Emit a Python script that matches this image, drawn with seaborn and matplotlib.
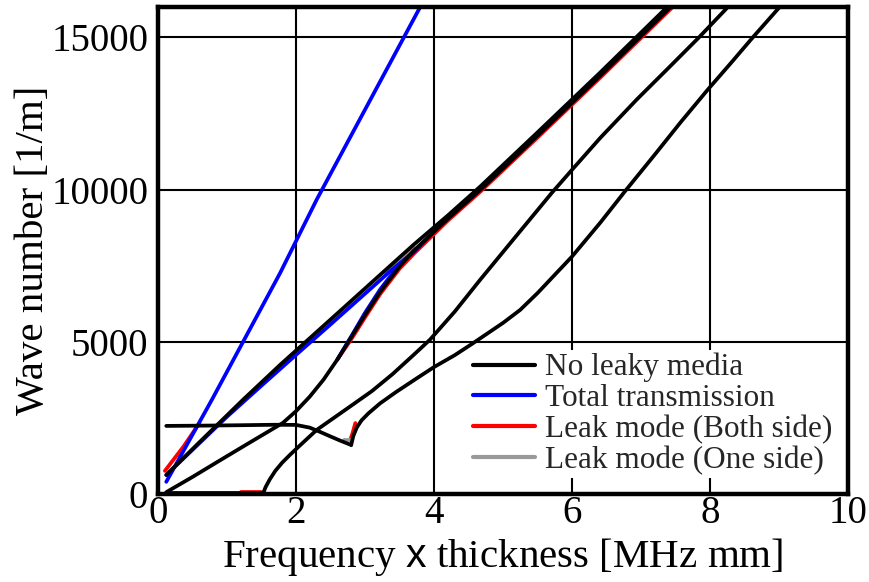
import matplotlib
matplotlib.use("Agg")
import matplotlib.pyplot as plt
import seaborn as sns
from matplotlib.lines import Line2D

sns.set_theme(style="white")
plt.rcParams['font.family'] = ['Liberation Serif', 'DejaVu Serif']
plt.rcParams['mathtext.fontset'] = 'custom'
plt.rcParams['mathtext.sf'] = 'Liberation Sans'
plt.rcParams['mathtext.rm'] = 'Liberation Serif'

# ---------------- data ----------------
series_names = ["No leaky media", "Total transmission",
                "Leak mode (Both side)", "Leak mode (One side)"]
series_colors = ["#000000", "#0000ff", "#ff0000", "#999999"]

x_ticks = [0, 2, 4, 6, 8, 10]
y_ticks = [0, 5000, 10000, 15000]

# No leaky media (black)
a_x = [0.12, 0.60, 1.23, 1.77, 2.50, 3.20, 3.70, 4.20, 4.67, 5.50, 6.41, 7.38]
a_y = [625, 1700, 3092, 4243, 5730, 7160, 8180, 9150, 10100, 11880, 13850, 16000]

b_x = [0.12, 0.50, 0.86, 1.30, 1.81, 2.00, 2.20, 2.40, 2.60, 2.80, 3.00, 3.22, 3.50,
       3.70, 4.20, 4.67, 5.50, 6.41, 7.43]
b_y = [60, 560, 1053, 1650, 2336, 2720, 3200, 3760, 4420, 5150, 5880, 6640, 7470,
       7980, 9040, 9990, 11770, 13740, 16000]

c_x = [1.52, 1.56, 1.62, 1.70, 1.80, 1.91, 2.05, 2.30, 2.80, 3.10, 3.40, 3.70, 3.94,
       4.30, 4.67, 5.20, 5.71, 6.00, 6.41, 6.94, 7.40, 7.84, 8.26]
c_y = [0, 230, 480, 760, 1030, 1280, 1580, 2105, 2900, 3380, 3940, 4560, 5066,
       5990, 7040, 8500, 9900, 10650, 11700, 12963, 14000, 15000, 16000]

d_x = [2.80, 2.83, 2.88, 2.95, 3.05, 3.22, 3.45, 3.75, 4.00, 4.30, 4.55, 5.00, 5.25,
       5.50, 6.00, 6.41, 6.77, 7.20, 7.57, 7.97, 8.30, 8.62, 9.01]
d_y = [1610, 1900, 2180, 2420, 2650, 2980, 3350, 3800, 4170, 4560, 4930, 5620, 6050,
       6600, 7800, 8914, 9950, 11150, 12200, 13290, 14150, 15000, 16000]

e_x = [0.12, 0.60, 1.20, 1.70, 2.00, 2.20, 2.35, 2.50, 2.65, 2.80]
e_y = [2237, 2245, 2260, 2275, 2270, 2180, 2040, 1890, 1745, 1610]

f_x = [0.12, 1.52]
f_y = [40, 40]

# Total transmission (blue)
bs_x = [0.12, 0.78, 1.77, 2.30, 3.80]
bs_y = [400, 3092, 7260, 9672, 16000]

ba_x = [0.12, 1.00, 1.50, 2.00, 2.50, 3.00, 3.40, 3.72, 4.20, 4.67, 5.50, 6.41, 7.41]
ba_y = [625, 2540, 3560, 4570, 5570, 6580, 7390, 7970, 9090, 10040, 11820, 13790, 16000]

bb_x = [2.60, 2.83, 3.00, 3.22, 3.50, 3.72]
bb_y = [4420, 5290, 5950, 6720, 7550, 7990]

# Leak mode, both sides (red)
r0_x = [0.10, 0.37, 0.60]
r0_y = [760, 1560, 2330]

rb_x = [1.20, 1.50]
rb_y = [60, 60]

rm_x = [2.60, 2.80, 3.00, 3.22, 3.50, 3.72, 4.20, 4.67, 5.50, 6.41, 7.46]
rm_y = [4420, 5080, 5800, 6570, 7400, 7920, 8980, 9930, 11710, 13680, 16000]

rc_x = [2.79, 2.82, 2.86]
rc_y = [1800, 2000, 2330]

# Leak mode, one side (grey)
g1_x = [2.70, 2.81]
g1_y = [1790, 1790]

g2_x = [3.30, 3.70]
g2_y = [7280, 8100]

# ---------------- figure ----------------
fig = plt.figure(figsize=(8.7, 5.82), dpi=100)
ax = fig.add_axes([0.1816, 0.1512, 0.7931, 0.8368])

segments = [
    (r0_x, r0_y, 2), (rb_x, rb_y, 2), (rm_x, rm_y, 2), (rc_x, rc_y, 2),
    (g1_x, g1_y, 3), (g2_x, g2_y, 3),
    (bs_x, bs_y, 1), (ba_x, ba_y, 1), (bb_x, bb_y, 1),
    (a_x, a_y, 0), (b_x, b_y, 0), (c_x, c_y, 0), (d_x, d_y, 0),
    (e_x, e_y, 0), (f_x, f_y, 0),
]
for sx, sy, k in segments:
    sns.lineplot(x=sx, y=sy, ax=ax, color=series_colors[k], lw=2.7,
                 sort=False, estimator=None, legend=False, zorder=3 + (k == 0))

ax.set_xlim(0, 10)
ax.set_ylim(0, 16000)
ax.set_xticks(x_ticks)
ax.set_yticks(y_ticks)
ax.set_xticklabels([str(v) for v in x_ticks])
ax.set_yticklabels([str(v) for v in y_ticks])
ax.grid(True, color="black", lw=1.5)
ax.set_axisbelow(True)
ax.tick_params(axis="both", length=0, labelsize=28, colors="black")
ax.tick_params(axis="x", pad=1)
ax.tick_params(axis="y", pad=7)
for sp in ax.spines.values():
    sp.set_color("black")
    sp.set_linewidth(3.2)
    sp.set_visible(True)
    sp.set_zorder(6)

ax.set_xlabel(r"Frequency $\mathsf{x}$ thickness [MHz mm]", fontsize=29.5, color="black")
ax.set_ylabel("Wave number [1/m]", fontsize=29.5, color="black")
ax.xaxis.label.set_va("baseline")
ax.xaxis.set_label_coords(0.5, -0.150)
ax.yaxis.set_label_coords(-0.154, 0.5)

handles = [Line2D([0], [0], color=c, lw=3) for c in series_colors]
leg = ax.legend(handles, series_names, loc="upper left",
                bbox_to_anchor=(0.452, 0.296), fontsize=22.5,
                handlelength=1.98, handletextpad=0.32, labelspacing=0.05,
                borderpad=0.1, borderaxespad=0, frameon=True, fancybox=False,
                framealpha=1, facecolor="white", edgecolor="none")
leg.set_zorder(5)

fig.savefig("out.png", dpi=100)
